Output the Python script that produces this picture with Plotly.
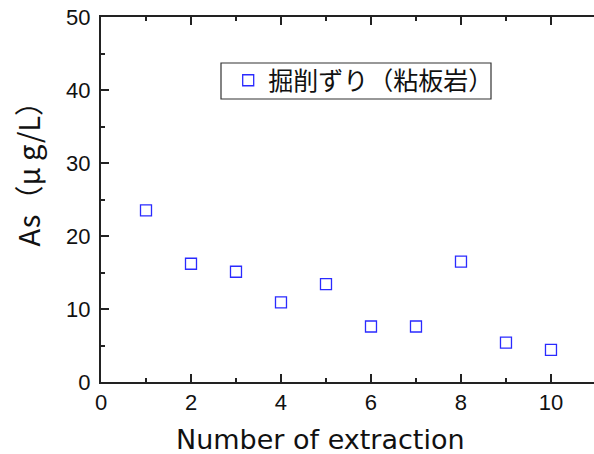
import plotly.graph_objects as go

extraction = [1, 2, 3, 4, 5, 6, 7, 8, 9, 10]
arsenic = [23.5, 16.2, 15.1, 10.9, 13.4, 7.6, 7.6, 16.5, 5.4, 4.4]
series_name = "掘削ずり（粘板岩）"
x_ticks = [0, 2, 4, 6, 8, 10]
y_ticks = [0, 10, 20, 30, 40, 50]

FONT = "Liberation Sans, Noto Sans CJK JP, sans-serif"
AX = "#222222"

fig = go.Figure()
fig.add_trace(go.Scatter(
    x=extraction, y=arsenic, mode="markers", name=series_name,
    marker=dict(symbol="square-open", size=11, color="#2a2aff", line=dict(width=1.3)),
))

axis_common = dict(
    showline=True, linecolor=AX, linewidth=2, showgrid=False, zeroline=False,
    ticks="inside", ticklen=8, tickwidth=1.5, tickcolor=AX, automargin=False,
    tickfont=dict(family=FONT, size=22, color="#111111"),
)

fig.update_layout(
    width=594, height=454,
    margin=dict(l=101, r=0, t=17, b=72, autoexpand=False),
    paper_bgcolor="white", plot_bgcolor="white",
    font=dict(family=FONT, color="#111111"),
    xaxis=dict(range=[0, 10.956], tickvals=x_ticks, mirror="ticks",
               minor=dict(ticks="inside", ticklen=4, dtick=1, tick0=0, tickcolor=AX, tickwidth=1.5),
               **axis_common),
    yaxis=dict(range=[0, 50], tickvals=y_ticks, mirror=False, ticklabelstandoff=4,
               minor=dict(ticks="inside", ticklen=4, dtick=5, tick0=0, tickcolor=AX, tickwidth=1.5),
               **axis_common),
    showlegend=True,
    legend=dict(x=0.258, y=0.826, xanchor="left", yanchor="middle",
                borderwidth=0, bgcolor="rgba(0,0,0,0)",
                font=dict(family="Noto Sans CJK JP, sans-serif", size=25, color="#111111")),
    shapes=[
        dict(type="rect", xref="paper", yref="paper",
             x0=(221 - 101) / 493, x1=(491 - 101) / 493,
             y0=(382 - 99) / 365, y1=(382 - 63) / 365,
             line=dict(color="#333333", width=1.2), fillcolor="white", layer="below"),
    ],
    annotations=[
        dict(text="Number of extraction", xref="paper", yref="paper",
             x=(320 - 101) / 493, y=-0.11, xanchor="center", yanchor="top",
             showarrow=False, font=dict(family="DejaVu Sans, sans-serif", size=27, color="#111111")),
        dict(text="As（μ g/L）", xref="paper", yref="paper",
             x=-0.152, y=(382 - 166.5) / 365, xanchor="center", yanchor="middle",
             textangle=-90, showarrow=False,
             font=dict(family="Noto Sans CJK JP, sans-serif", size=29, color="#111111")),
    ],
)

fig.write_html("out.html", config={"displayModeBar": False},
               post_script="document.body.style.margin='0';document.body.style.overflow='hidden';")
